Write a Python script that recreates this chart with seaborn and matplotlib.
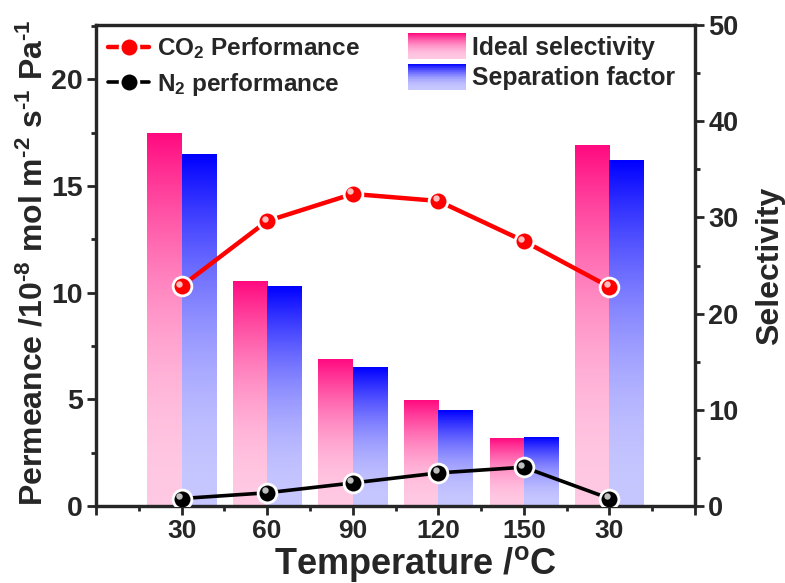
import numpy as np
import pandas as pd
import matplotlib
matplotlib.use("Agg")
import matplotlib.pyplot as plt
import matplotlib.transforms as mtransforms
from matplotlib.patches import Rectangle, Patch
from matplotlib.legend_handler import HandlerBase
from matplotlib.ticker import MultipleLocator
import seaborn as sns

# ---------------- data ----------------
temps = ["30", "60", "90", "120", "150", "30"]
ideal_selectivity = [38.7, 23.3, 15.2, 11.0, 7.0, 37.5]
separation_factor = [36.5, 22.8, 14.4, 9.9, 7.1, 35.9]
co2_perm = [10.31, 13.36, 14.63, 14.30, 12.42, 10.27]
n2_perm = [0.35, 0.62, 1.08, 1.55, 1.82, 0.35]
bar_labels = ["Ideal selectivity", "Separation factor"]
line_labels = ["CO$_2$ Performance", "N$_2$ performance"]

sns.set_style("ticks")
plt.rcParams["font.family"] = ["Liberation Sans", "DejaVu Sans"]
plt.rcParams["font.weight"] = "bold"
plt.rcParams["mathtext.fontset"] = "custom"
plt.rcParams["mathtext.rm"] = "Liberation Sans:bold"
plt.rcParams["mathtext.bf"] = "Liberation Sans:bold"
plt.rcParams["mathtext.it"] = "Liberation Sans:bold"
plt.rcParams["mathtext.default"] = "bf"
plt.rcParams["axes.labelweight"] = "bold"

fig = plt.figure(figsize=(7.85, 5.83), dpi=100)
ax = fig.add_axes([96 / 785, 1 - 506 / 583, 599 / 785, 481 / 583])
ax2 = ax.twinx()

run = np.arange(len(temps))
df = pd.DataFrame({
    "run": np.tile(run, 2),
    "value": ideal_selectivity + separation_factor,
    "metric": np.repeat(bar_labels, len(temps)),
})

top_cols = {"Ideal selectivity": np.array([255, 10, 128]) / 255,
            "Separation factor": np.array([0, 0, 255]) / 255}

sns.barplot(data=df, x="run", y="value", hue="metric", hue_order=bar_labels,
            palette=[top_cols[k] for k in bar_labels], ax=ax2, width=0.8,
            legend=False, native_scale=True, errorbar=None)


def grad_colors(top, n=200):
    t = np.linspace(0, 1, n)  # 0 = top, 1 = bottom
    f = 0.78 * (1 - (1 - t) ** 2)
    cols = top[None, :] * (1 - f[:, None]) + f[:, None]
    return cols[::-1]  # bottom first


for cont, lab in zip(ax2.containers, bar_labels):
    cols = grad_colors(top_cols[lab])
    img = np.concatenate([cols, np.ones((len(cols), 1))], axis=1)[:, None, :]
    for bar in cont:
        x0, w, h = bar.get_x(), bar.get_width(), bar.get_height()
        ax2.imshow(img, extent=[x0, x0 + w, 0, h], origin="lower",
                   aspect="auto", interpolation="bilinear", zorder=2)
        bar.set_facecolor("none")
        bar.set_edgecolor("none")

# lines on the left axis
line_cols = ["#ff0000", "#000000"]
line_widths = [3.2, 2.6]
for vals, col, lab, lw in zip([co2_perm, n2_perm], line_cols, line_labels, line_widths):
    sns.lineplot(x=run, y=vals, ax=ax, color=col, lw=lw, marker="o",
                 markersize=13.5, markeredgecolor="white", markeredgewidth=2.0,
                 markerfacecolor=col, zorder=5, label=lab, legend=False)
    hl = mtransforms.offset_copy(ax.transData, fig=fig, x=-1.8, y=1.8, units="points")
    ax.plot(run, vals, ls="none", marker="o", markersize=4.6,
            markerfacecolor=(1, 1, 1, 0.75), markeredgecolor="none",
            transform=hl, zorder=6)

ax.set_zorder(ax2.get_zorder() + 1)
ax.patch.set_visible(False)

ax.set_xlim(-1, 6)
ax.set_ylim(0, 22.55)
ax2.set_ylim(0, 50)

ax.set_xticks(np.arange(-1, 7), ["", *temps, ""])
ax.xaxis.set_minor_locator(MultipleLocator(0.5))
ax.yaxis.set_major_locator(MultipleLocator(5))
ax.yaxis.set_minor_locator(MultipleLocator(2.5))
ax2.yaxis.set_major_locator(MultipleLocator(10))
ax2.yaxis.set_minor_locator(MultipleLocator(5))

for a in (ax, ax2):
    for s in a.spines.values():
        s.set_linewidth(2.3)
        s.set_visible(True)
    a.tick_params(which="major", length=6.5, width=2.0, direction="out",
                  labelsize=19.5, pad=3)
    a.tick_params(which="minor", length=3.5, width=2.0, direction="out")
ax.tick_params(axis="x", which="both", top=False)
ax.tick_params(axis="x", which="major", pad=3, labelsize=19)
ax.tick_params(axis="y", which="major", labelsize=20.5)
ax.tick_params(axis="y", which="both", right=False)
ax2.tick_params(axis="x", which="both", bottom=False, top=False, labelbottom=False)
ax2.set_xlabel("")

ax.set_xlabel("Temperature /$^{o}$C", fontsize=26, fontweight="bold")
ax.xaxis.set_label_coords(0.533, -0.08)
ax.set_ylabel("Permeance /10$^{\u20108}$ mol m$^{\u20102}$ s$^{\u20101}$ Pa$^{\u20101}$",
              fontsize=23, fontweight="bold", labelpad=0)
ax.yaxis.set_label_coords(-0.078, 0.505)
ax2.set_ylabel("Selectivity", fontsize=23, fontweight="bold", labelpad=12)


class GradientHandler(HandlerBase):
    def __init__(self, top, n=40):
        super().__init__()
        self.cols = grad_colors(top, n)

    def create_artists(self, legend, orig_handle, xdescent, ydescent,
                       width, height, fontsize, trans):
        n = len(self.cols)
        arts = []
        for i, c in enumerate(self.cols):
            r = Rectangle((-xdescent, -ydescent + height * i / n), width,
                          height / n * 1.05, facecolor=c, edgecolor="none",
                          transform=trans)
            arts.append(r)
        return arts


leg1 = ax.legend(loc="upper left", bbox_to_anchor=(0.02, 0.978), frameon=False,
                 handlelength=1.7, handletextpad=0.3,
                 labelspacing=0.38, borderaxespad=0, borderpad=0,
                 prop={"weight": "bold", "size": 17.5})
ax.add_artist(leg1)

proxies = [Patch(label=l) for l in bar_labels]
hmap = {p: GradientHandler(top_cols[l]) for p, l in zip(proxies, bar_labels)}
ax.legend(handles=proxies, loc="upper left", bbox_to_anchor=(0.521, 0.983),
          frameon=False, handler_map=hmap, handlelength=2.35, handleheight=1.25,
          handletextpad=0.25, labelspacing=0.17, borderaxespad=0, borderpad=0,
          prop={"weight": "bold", "size": 17.8})

fig.savefig("out.png", dpi=100)
